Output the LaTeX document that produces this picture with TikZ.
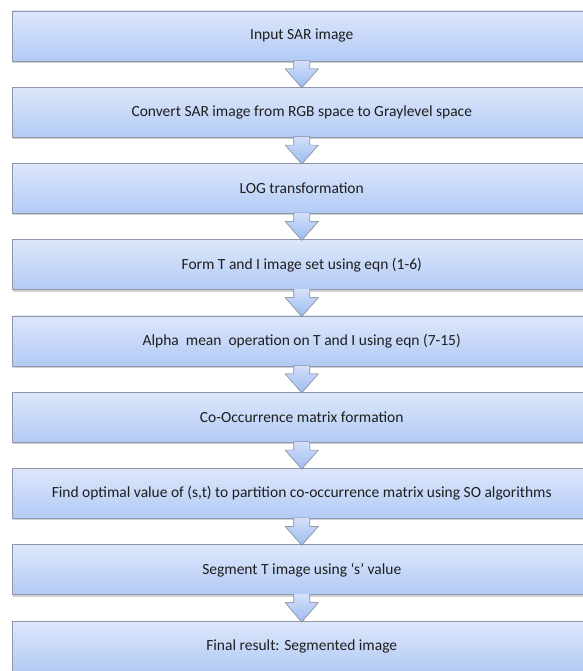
\documentclass[tikz,border=0pt]{standalone}
\usepackage{fontspec}
\setmainfont{Carlito}
\usetikzlibrary{calc,shadows}
\definecolor{boxtop}{HTML}{DDE7FB}
\definecolor{boxbot}{HTML}{B2CAF5}
\definecolor{boxline}{HTML}{8E98AA}
\definecolor{arrtop}{HTML}{D3E0FA}
\definecolor{arrbot}{HTML}{9DBBEE}
\definecolor{txt}{HTML}{1E1E1E}
\tikzset{
 stagebox/.style={draw=boxline, line width=0.9pt, top color=boxtop, bottom color=boxbot,
   minimum width=578.5pt, minimum height=50pt, inner sep=0pt,
   font=\fontsize{15.5}{18}\selectfont, text=txt,
   drop shadow={shadow xshift=0pt, shadow yshift=-2pt, opacity=0.3, fill=black!60}},
 flowarrow/.style={draw=boxline, line width=0.6pt, top color=arrtop, bottom color=arrbot, line join=miter},
}
\newcommand{\blockarrow}[2]{%
 \filldraw[flowarrow] ($(#1.south)+(-8,1)$) -- ($(#1.south)+(-8,-7.5)$) -- ($(#1.south)+(-16.5,-7.5)$)
   -- ($(#2.north)+(0,-1)$) -- ($(#1.south)+(16.5,-7.5)$) -- ($(#1.south)+(8,-7.5)$) -- ($(#1.south)+(8,1)$);}
\begin{document}
\begin{tikzpicture}[x=1pt,y=1pt]
\useasboundingbox (0,0) rectangle (582,671);
\fill[white] (0,0) rectangle (582,671);
\node[stagebox] (b1) at (301.75,635)    {Input SAR image};
\node[stagebox] (b2) at (301.75,558.75) {Convert SAR image from RGB space to Graylevel space};
\node[stagebox] (b3) at (301.75,482.5)  {LOG transformation};
\node[stagebox] (b4) at (301.75,406.25) {Form T and I image set using eqn (1-6)};
\node[stagebox] (b5) at (301.75,330)    {Alpha\ \ mean\ \ operation on T and I using eqn (7-15)};
\node[stagebox] (b6) at (301.75,253.75) {Co-Occurrence matrix formation};
\node[stagebox] (b7) at (301.75,177.5)  {Find optimal value of (s,t) to partition co-occurrence matrix using SO algorithms};
\node[stagebox] (b8) at (301.75,101.25) {Segment T image using ‘s’ value};
\node[stagebox] (b9) at (301.75,24.5)   {Final result: Segmented image};
\blockarrow{b1}{b2}
\blockarrow{b2}{b3}
\blockarrow{b3}{b4}
\blockarrow{b4}{b5}
\blockarrow{b5}{b6}
\blockarrow{b6}{b7}
\blockarrow{b7}{b8}
\blockarrow{b8}{b9}
\end{tikzpicture}
\end{document}
